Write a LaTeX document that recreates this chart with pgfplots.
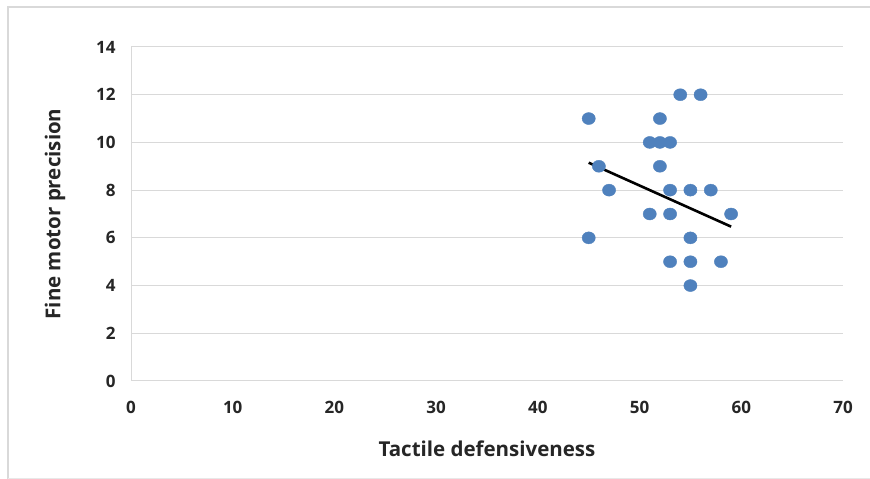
\documentclass[border=0pt]{standalone}
\usepackage{pgfplots}
\pgfplotsset{compat=1.18}
\usepackage{fontspec}
\setmainfont{Open Sans}
\definecolor{dotblue}{HTML}{4F81BD}
\definecolor{gridgray}{HTML}{D9D9D9}
\definecolor{framegray}{HTML}{D9D9D9}
\begin{document}
\begin{tikzpicture}
\useasboundingbox (0pt,0pt) rectangle (870pt,479pt);
\fill[white] (0pt,0pt) rectangle (870pt,479pt);
\draw[framegray,line width=1.2pt] (8pt,0pt) -- (8pt,472pt) -- (870pt,472pt);
\draw[framegray!60,line width=0.6pt] (8pt,1pt) -- (870pt,1pt);
\begin{axis}[
  at={(131pt,98pt)}, anchor=south west,
  scale only axis, width=712pt, height=334pt,
  xmin=0, xmax=70, ymin=0, ymax=14,
  xtick={0,10,...,70}, ytick={0,2,...,14},
  axis x line*=bottom, axis y line*=left,
  axis line style={draw=gridgray, line width=1pt, -},
  major tick length=0pt,
  ymajorgrids, grid style={draw=gridgray, line width=1pt},
  tick label style={font=\fontsize{17}{19}\selectfont\bfseries, text=black!85},
  /pgf/number format/assume math mode=true,
  xticklabel style={yshift=-17pt},
  yticklabel style={xshift=-12pt},
  xlabel={Tactile defensiveness}, ylabel={Fine motor precision},
  label style={font=\fontsize{20.5}{23}\selectfont\bfseries, text=black!85},
  xlabel style={yshift=-20pt},
  ylabel style={yshift=24pt},
  clip=false,
]
\addplot[only marks, mark=*, mark size=6pt, mark options={fill=dotblue, draw=dotblue, xscale=1.1}] coordinates {
(54,12) (56,12)
(45,11) (52,11)
(51,10) (52,10) (53,10)
(46,9) (52,9)
(47,8) (53,8) (55,8) (57,8)
(51,7) (53,7) (59,7)
(45,6) (55,6)
(53,5) (55,5) (58,5)
(55,4)
};
\addplot[black, line width=2.6pt] coordinates {(45,9.15) (59,6.47)};
\end{axis}
\end{tikzpicture}
\end{document}
